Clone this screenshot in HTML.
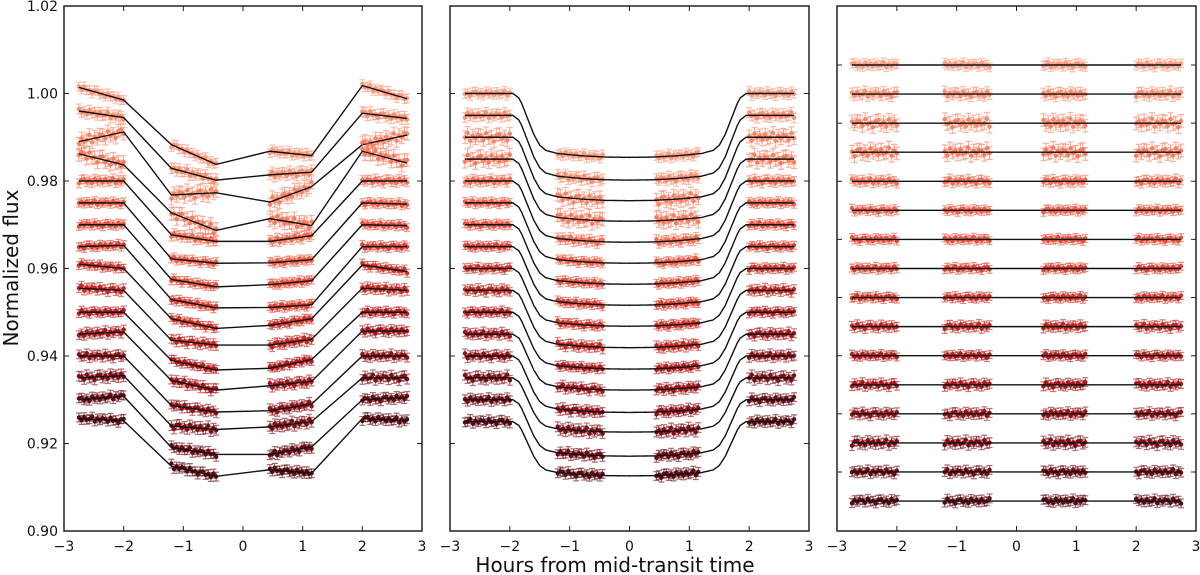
<!DOCTYPE html>
<html><head><meta charset="utf-8"><style>
body{margin:0;background:#fff}
svg{display:block}
text{font-family:"DejaVu Sans","Liberation Sans",sans-serif;fill:#111}
</style></head><body>
<svg id="chart" width="1200" height="575" viewBox="0 0 1200 575">
<text x="18" y="268" font-size="20" text-anchor="middle" transform="rotate(-90 18 268)">Normalized flux</text>
<text x="615" y="572" font-size="20" text-anchor="middle">Hours from mid-transit time</text>
</svg>
<script>
// ---- data ----
const rowOffsets = [1.000,0.995,0.990,0.985,0.980,0.975,0.970,0.965,0.960,0.955,0.950,0.945,0.940,0.935,0.930,0.925];
const rowColors = ['#fc9a7e','#fb8f70','#fb8466','#fa7a5c','#f56c52','#ef5e47','#e6503c','#dc4132','#cf3429','#c22822','#b31d1e','#a3161b','#921118','#7e0d15','#6b0a12','#5a0810'];
const knotX = [-2.75,-2.0,-1.2,-0.45,0.45,1.15,2.0,2.75];
const rawKnots = [
 [0.0014,-0.0015,-0.0117,-0.0162,-0.0132,-0.0142,0.0018,-0.0012],
 [0.0010,-0.0005,-0.0121,-0.0148,-0.0136,-0.0130,0.0005,-0.0007],
 [-0.0010,0.0012,-0.0132,-0.0127,-0.0148,-0.0113,-0.0017,0.0005],
 [0.0012,-0.0013,-0.0123,-0.0163,-0.0136,-0.0152,0.0018,-0.0009],
 [0.0000,0.0000,-0.0123,-0.0138,-0.0138,-0.0125,0.0000,0.0000],
 [0.0000,0.0000,-0.0128,-0.0138,-0.0137,-0.0130,0.0000,-0.0003],
 [0.0000,0.0000,-0.0125,-0.0142,-0.0137,-0.0128,0.0000,-0.0002],
 [0.0000,0.0003,-0.0121,-0.0140,-0.0139,-0.0133,0.0000,0.0000],
 [0.0010,0.0000,-0.0115,-0.0137,-0.0130,-0.0115,0.0008,-0.0007],
 [0.0005,0.0000,-0.0114,-0.0125,-0.0125,-0.0112,0.0005,0.0000],
 [0.0000,0.0000,-0.0110,-0.0132,-0.0128,-0.0108,0.0000,0.0000],
 [0.0000,0.0005,-0.0106,-0.0128,-0.0118,-0.0108,0.0007,0.0007],
 [0.0000,0.0000,-0.0113,-0.0128,-0.0125,-0.0110,0.0000,0.0000],
 [0.0000,0.0005,-0.0110,-0.0118,-0.0112,-0.0100,0.0000,0.0000],
 [0.0000,0.0008,-0.0109,-0.0125,-0.0125,-0.0108,0.0000,0.0005],
 [0.0007,0.0002,-0.0102,-0.0125,-0.0110,-0.0118,0.0007,0.0002]
];
const modelAbsX = [0,0.4,0.8,1.2,1.4,1.5,1.6,1.7,1.8,1.85,1.95,3];
const modelShape = [1.0,0.995,0.975,0.94,0.89,0.81,0.64,0.40,0.16,0.07,0,0];
const rowDepth = [0.0146,0.0148,0.0145,0.0142,0.0140,0.0138,0.0136,0.0134,0.0132,0.0131,0.0130,0.0128,0.0129,0.0124,0.0129,0.0124];
const noiseScale = [0.0006,0.0007,0.0010,0.0010,0.0006,0.0005,0.0005,0.0005,0.0005,0.0006,0.0005,0.0006,0.0006,0.0007,0.0006,0.0006];
const noise = [0.3,-0.6,0.9,-0.2,0.1,-0.9,0.5,0.7,-0.4,0.2,-0.7,0.8,-0.1,0.4,-0.5,0.6,-0.3,0.0,1.0,-0.8,0.35,-0.25,0.55];
const segments = [[-2.75,-2.0],[-1.2,-0.45],[0.45,1.15],[2.0,2.75]];
const xTicks = [-3,-2,-1,0,1,2,3];
const yTicks = [1.02,1.00,0.98,0.96,0.94,0.92,0.90];
const yTickLabels = ['1.02','1.00','0.98','0.96','0.94','0.92','0.90'];

// ---- scales ----
const panels = [[64,422],[450,809],[837,1196]];
const plotTop = 6, plotBottom = 531;
function xs(p,x){return panels[p][0]+(x+3)/6*(panels[p][1]-panels[p][0]);}
function ys(v){return plotBottom-(v-0.90)/0.12*(plotBottom-plotTop);}
function resY(i,r){return 65+29.07*i - r/0.001*4.375;}
function interp(xa,ya,x){
  for(let k=0;k<xa.length-1;k++){ if(x<=xa[k+1]){const t=(x-xa[k])/(xa[k+1]-xa[k]);return ya[k]+t*(ya[k+1]-ya[k]);} }
  return ya[ya.length-1];
}
function depth(i,x){return rowDepth[i]*interp(modelAbsX,modelShape,Math.abs(x));}

const svg=document.getElementById('chart');
const NS='http://www.w3.org/2000/svg';
function mk(tag,attrs,parent){const e=document.createElementNS(NS,tag);for(const k in attrs)e.setAttribute(k,attrs[k]);(parent||svg).appendChild(e);return e;}

const nPts=18;
function drawPoints(p,i,g,yfun){
  const col=rowColors[i];
  segments.forEach((s,si)=>{
    for(let k=0;k<nPts;k++){
      const x=s[0]+(s[1]-s[0])*k/(nPts-1);
      const n=noise[(i*7+si*5+k+p*3)%noise.length]*noiseScale[i];
      const X=xs(p,x), Y=yfun(x,n);
      const err=noiseScale[i]/0.001*4.375*1.1+1.5;
      const eb=mk('path',{d:`M${X},${Y-err}V${Y+err}M${X-3},${Y-err}h6M${X-3},${Y+err}h6`,stroke:col,'stroke-width':1.2,'stroke-opacity':0.6,fill:'none'},g);
      
      
      const c=mk('circle',{cx:X,cy:Y,r:2.2,fill:col},g);
      
      
    }
  });
}

for(let p=0;p<3;p++){
  const g=mk('g',{});
  
  
  for(let i=0;i<16;i++){
    const base=rowOffsets[i];
    const rg=mk('g',{},g);
    
    
    if(p===0){
      const kv=rawKnots[i];
      drawPoints(p,i,rg,(x,n)=>ys(base+interp(knotX,kv,x)+n));
      const d=knotX.map((x,k)=>(k?'L':'M')+xs(p,x)+','+ys(base+kv[k])).join('');
      const l=mk('path',{d:d,stroke:'#111','stroke-width':1.4,fill:'none'},rg);
      
      
    } else if(p===1){
      drawPoints(p,i,rg,(x,n)=>ys(base-depth(i,x)+n));
      let d='';
      for(let x=-2.75;x<=2.7501;x+=0.025){d+=(d?'L':'M')+xs(p,x)+','+ys(base-depth(i,x));}
      const l=mk('path',{d:d,stroke:'#111','stroke-width':1.4,fill:'none'},rg);
      
      
    } else {
      drawPoints(p,i,rg,(x,n)=>resY(i,n));
      const l=mk('line',{x1:xs(p,-2.75),x2:xs(p,2.75),y1:resY(i,0),y2:resY(i,0),stroke:'#111','stroke-width':1.4},rg);
      
      
    }
  }
  const L=panels[p][0], R=panels[p][1];
  const fr=mk('rect',{x:L,y:plotTop,width:R-L,height:plotBottom-plotTop,fill:'none',stroke:'#222','stroke-width':1.5},g);
  
  
  xTicks.forEach(t=>{
    const X=xs(p,t);
    const tk=mk('path',{d:`M${X},${plotBottom}v-5M${X},${plotTop}v5`,stroke:'#222','stroke-width':1},g);
    
    
    const tl=mk('text',{x:X,y:plotBottom+20,'font-size':14,'text-anchor':'middle'},g);
    tl.textContent=(t<0?'\u2212':'')+Math.abs(t);
    
    
  });
  if(p<2){
    yTicks.forEach((t,k)=>{
      const Y=ys(t);
      const tk=mk('path',{d:`M${L},${Y}h5M${R},${Y}h-5`,stroke:'#222','stroke-width':1},g);
      
      
      if(p===0){
        const tl=mk('text',{x:L-6,y:Y+5,'font-size':14,'text-anchor':'end'},g);
        tl.textContent=yTickLabels[k];
        
        
      }
    });
  } else {
    for(let i=0;i<16;i+=2){
      const Y=resY(i,0);
      const tk=mk('path',{d:`M${L},${Y}h5M${R},${Y}h-5`,stroke:'#222','stroke-width':1},g);
      
      
    }
  }
}
</script>
</body></html>
